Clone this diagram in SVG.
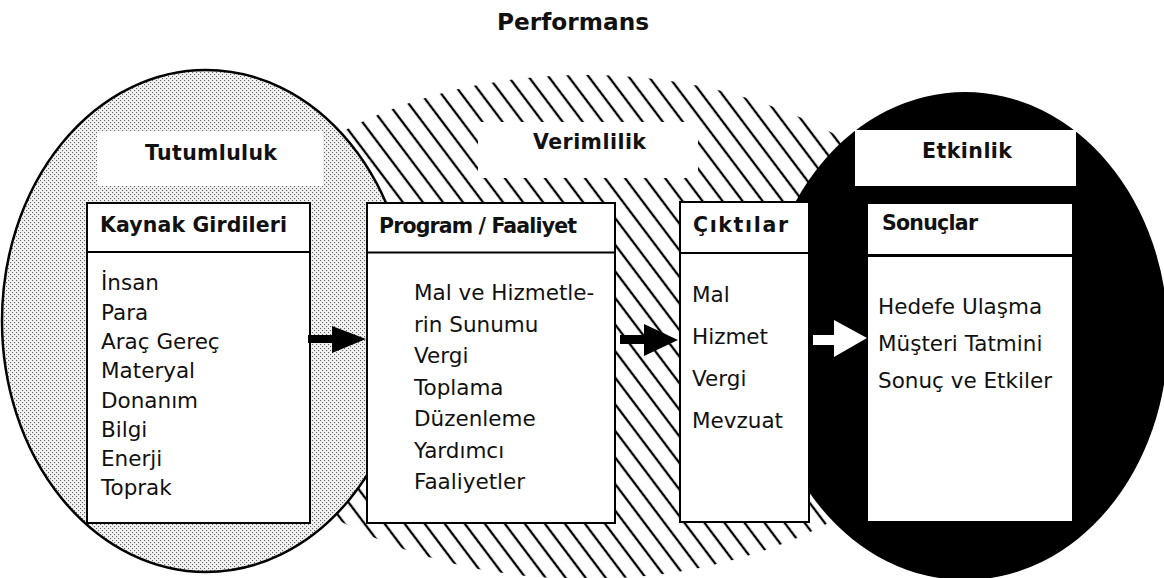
<svg xmlns="http://www.w3.org/2000/svg" width="1164" height="578" viewBox="0 0 1164 578">
<defs>
<pattern id="hatch" patternUnits="userSpaceOnUse" width="16" height="16" patternTransform="rotate(-37)">
<rect width="16" height="16" fill="#fff"/>
<line x1="8" y1="0" x2="8" y2="16" stroke="#000" stroke-width="2.3"/>
</pattern>
<pattern id="dots" patternUnits="userSpaceOnUse" width="4" height="4">
<rect width="4" height="4" fill="#f2f2f2"/>
<rect x="0" y="0" width="1.1" height="1.1" fill="#666"/>
<rect x="2" y="2" width="1.1" height="1.1" fill="#666"/>
</pattern>
<style>
.t{font-family:"DejaVu Sans","Liberation Sans",sans-serif;fill:#111}
.h{font-weight:bold;font-size:20.5px}
.b{font-size:21.5px}
.box{fill:#fff;stroke:#000;stroke-width:2}
.lab{fill:#fff;stroke:none}
.div{stroke:#000;stroke-width:2}
</style>
</defs>
<rect width="1164" height="578" fill="#fff"/>

<g id="title">
<text class="t" x="497" y="30" font-weight="bold" font-size="23" textLength="152" lengthAdjust="spacingAndGlyphs">Performans</text>
</g>

<g id="verimlilik-region">
<ellipse cx="586" cy="327" rx="386" ry="252" fill="url(#hatch)"/>
</g>
<g id="etkinlik-region">
<ellipse cx="965" cy="336" rx="203" ry="244" fill="#000"/>
</g>
<g id="tutumluluk-region">
<ellipse cx="206" cy="321" rx="204" ry="251" fill="url(#dots)" stroke="#000" stroke-width="2.5"/>
</g>

<g id="label-tutumluluk">
<rect class="lab" x="97" y="131" width="226" height="55"/>
<text class="t h" x="145" y="160" textLength="132">Tutumluluk</text>
</g>
<g id="label-verimlilik">
<rect class="lab" x="478" y="122" width="220" height="56"/>
<text class="t h" x="533" y="149" textLength="113">Verimlilik</text>
</g>
<g id="label-etkinlik">
<rect class="lab" x="855" y="130" width="221" height="56"/>
<text class="t h" x="922" y="158" textLength="90">Etkinlik</text>
</g>

<g id="kaynak-girdileri">
<rect class="box" x="87" y="203" width="223" height="320"/>
<line class="div" x1="87" y1="252" x2="310" y2="252"/>
<text class="t h" x="100" y="232" textLength="187">Kaynak Girdileri</text>
<text class="t b" x="101" y="290">İnsan</text>
<text class="t b" x="101" y="319.5">Para</text>
<text class="t b" x="101" y="349">Araç Gereç</text>
<text class="t b" x="101" y="378">Materyal</text>
<text class="t b" x="101" y="407.5">Donanım</text>
<text class="t b" x="101" y="437">Bilgi</text>
<text class="t b" x="101" y="466">Enerji</text>
<text class="t b" x="101" y="495">Toprak</text>
</g>

<g id="program-faaliyet">
<rect class="box" x="367" y="203" width="248" height="320"/>
<line class="div" x1="367" y1="252.5" x2="615" y2="252.5"/>
<text class="t h" x="379" y="233" textLength="198">Program / Faaliyet</text>
<text class="t b" x="414" y="300">Mal ve Hizmetle-</text>
<text class="t b" x="414" y="331.5">rin Sunumu</text>
<text class="t b" x="414" y="363">Vergi</text>
<text class="t b" x="414" y="394.5">Toplama</text>
<text class="t b" x="414" y="426">Düzenleme</text>
<text class="t b" x="414" y="457.5">Yardımcı</text>
<text class="t b" x="414" y="489">Faaliyetler</text>
</g>

<g id="ciktilar">
<rect class="box" x="680" y="202" width="129" height="320"/>
<line class="div" x1="680" y1="253" x2="809" y2="253"/>
<text class="t h" x="693" y="232" textLength="95">Çıktılar</text>
<text class="t b" x="692" y="302">Mal</text>
<text class="t b" x="692" y="344">Hizmet</text>
<text class="t b" x="692" y="386">Vergi</text>
<text class="t b" x="692" y="428">Mevzuat</text>
</g>

<g id="sonuclar">
<rect class="box" x="867" y="203" width="206" height="319"/>
<line x1="867" y1="255.5" x2="1073" y2="255.5" stroke="#000" stroke-width="3"/>
<text class="t h" x="882" y="230" textLength="96">Sonuçlar</text>
<text class="t b" x="878" y="314">Hedefe Ulaşma</text>
<text class="t b" x="878" y="351">Müşteri Tatmini</text>
<text class="t b" x="878" y="388">Sonuç ve Etkiler</text>
</g>

<g id="connectors">
<polygon points="308,335 332,335 332,326 366,339 332,353 332,343 308,343" fill="#000"/>
<polygon points="620,335 644,335 644,324 678,340 644,356 644,344 620,344" fill="#000"/>
<polygon points="813,335 834,335 834,320 867,338 834,357 834,345 813,345" fill="#fff"/>
</g>
</svg>
